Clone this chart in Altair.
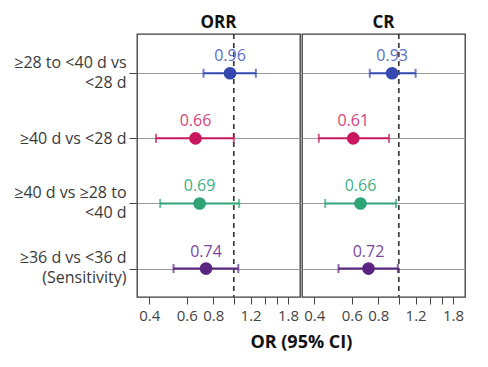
import altair as alt
import pandas as pd

rows = ["≥28 to <40 d vs|<28 d", "≥40 d vs <28 d", "≥40 d vs ≥28 to|<40 d", "≥36 d vs <36 d|(Sensitivity)"]
orr_or = [0.96, 0.66, 0.69, 0.74]
orr_lo = [0.72, 0.43, 0.45, 0.52]
orr_hi = [1.27, 1.00, 1.06, 1.05]
cr_or = [0.93, 0.61, 0.66, 0.72]
cr_lo = [0.73, 0.42, 0.45, 0.52]
cr_hi = [1.20, 0.90, 0.97, 0.99]
dot_colors = ["#3548b0", "#c8175d", "#2ea477", "#5b2382"]
label_colors = ["#5b6ec8", "#d2457f", "#3fb085", "#7c46a2"]
tick_vals = [0.4, 0.6, 0.8, 1.0, 1.2, 1.4, 1.6, 1.8]

FONT = "Open Sans"


def make_df(ors, los, his):
    return pd.DataFrame({
        "row": rows, "or": ors, "lo": los, "hi": his,
        "lab": [f"{v:.2f}" for v in ors],
    })


xscale = alt.Scale(type="log", domain=[0.35, 2.05], nice=False, zero=False)
yscale = alt.Scale(type="point", domain=rows, padding=0.52, align=0.58)
cscale = alt.Scale(domain=rows, range=dot_colors)
fscale = alt.Scale(domain=rows, range=label_colors)


def panel(df, title, first):
    xaxis = alt.Axis(
        values=tick_vals, title=None, grid=False, domain=False,
        labelExpr="(datum.value==1 || datum.value==1.4 || datum.value==1.6) ? '' : format(datum.value, '.1f')",
        tickSize=7, tickColor="#444", labelColor="#444", labelFontSize=15,
        labelFont=FONT, labelPadding=4, labelFlush=False, labelOverlap=False,
    )
    if first:
        yaxis = alt.Axis(
            title=None, grid=True, gridColor="#999", gridWidth=1, domain=False,
            tickSize=8, tickColor="#444", labelColor="#3a3a3a", labelFontSize=16,
            labelFont=FONT, labelExpr="split(datum.label, '|')", labelLineHeight=20,
            labelPadding=3, labelAlign="right", minExtent=123, maxExtent=123,
            labelOffset={"condition": {"test": "indexof(datum.label, '|') >= 0", "value": -11}, "value": 0},
        )
    else:
        yaxis = alt.Axis(
            title=None, grid=True, gridColor="#999", gridWidth=1, domain=False,
            ticks=False, labels=False,
        )
    base = alt.Chart(df)
    y = alt.Y("row:N", scale=yscale, axis=yaxis)
    ci = base.mark_rule(strokeWidth=2).encode(
        x=alt.X("lo:Q", scale=xscale, axis=xaxis), x2="hi:Q", y=y,
        color=alt.Color("row:N", scale=cscale, legend=None),
    )
    caps_lo = base.mark_tick(orient="vertical", size=9, thickness=2).encode(
        x=alt.X("lo:Q", scale=xscale), y=y,
        color=alt.Color("row:N", scale=cscale, legend=None),
    )
    caps_hi = base.mark_tick(orient="vertical", size=9, thickness=2).encode(
        x=alt.X("hi:Q", scale=xscale), y=y,
        color=alt.Color("row:N", scale=cscale, legend=None),
    )
    ref = alt.Chart().mark_rule(strokeDash=[5, 4], color="#3a3a3a", strokeWidth=1.7).encode(
        x=alt.datum(1.0, scale=xscale)
    )
    pts = base.mark_circle(size=160, opacity=1).encode(
        x=alt.X("or:Q", scale=xscale), y=y,
        color=alt.Color("row:N", scale=cscale, legend=None),
    )
    txt = base.mark_text(dy=-17, fontSize=16, font=FONT).encode(
        x=alt.X("or:Q", scale=xscale), y=y, text="lab:N",
        fill=alt.Fill("row:N", scale=fscale, legend=None),
    )
    return alt.layer(ref, ci, caps_lo, caps_hi, pts, txt).properties(
        width=163, height=263,
        title=alt.TitleParams(title, fontSize=17, font=FONT, fontWeight="bold",
                              color="#111", offset=1),
    )


chart = alt.hconcat(
    panel(make_df(orr_or, orr_lo, orr_hi), "ORR", True),
    panel(make_df(cr_or, cr_lo, cr_hi), "CR", False),
    spacing=0,
).properties(
    title=alt.TitleParams("OR (95% CI)", orient="bottom", anchor="middle",
                          fontSize=18, font=FONT, fontWeight="bold", color="#111",
                          offset=10, dx=62),
).configure(
    background="white",
).configure_view(
    stroke="#3a3a3a", strokeWidth=1.3,
)

chart.save("out.html", embed_options={"renderer": "svg", "actions": False})
